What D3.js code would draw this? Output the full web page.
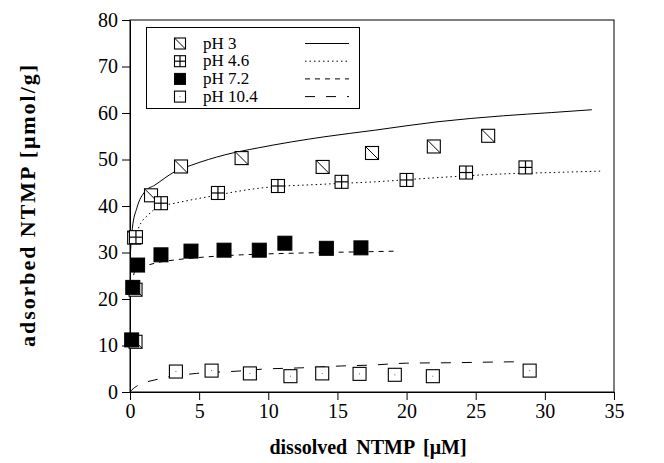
<!DOCTYPE html>
<html>
<head>
<meta charset="utf-8">
<script src="https://cdn.jsdelivr.net/npm/d3@7"></script>
<style>
  body { margin: 0; background: #fff; }
  text { font-family: "Liberation Serif", "Times New Roman", serif; fill: #000; }
</style>
</head>
<body>
<svg id="chart" width="664" height="463"></svg>
<script>
// Adsorption of NTMP at four pH values: measured points and fitted isotherms
const seriesNames = ["pH 3", "pH 4.6", "pH 7.2", "pH 10.4"];

// measured points [dissolved µM, adsorbed µmol/g]
const pH3Points  = [[0.4, 10.8], [0.4, 22.0], [0.3, 33.2], [1.52, 42.3], [3.69, 48.5], [8.07, 50.3],
                    [13.93, 48.4], [17.5, 51.4], [21.97, 52.8], [25.9, 55.1]];
const pH46Points = [[0.43, 33.3], [2.24, 40.6], [6.36, 42.8], [10.7, 44.3], [15.3, 45.2],
                    [20.0, 45.6], [24.3, 47.2], [28.6, 48.3]];
const pH72Points = [[0.12, 11.2], [0.2, 22.5], [0.55, 27.3], [2.24, 29.5], [4.41, 30.3],
                    [6.8, 30.5], [9.35, 30.5], [11.2, 32.0], [14.2, 30.9], [16.7, 31.0]];
const pH104Points = [[3.32, 4.4], [5.9, 4.6], [8.67, 4.0], [11.6, 3.4], [13.9, 4.0],
                     [16.6, 3.9], [19.15, 3.7], [21.9, 3.4], [28.9, 4.6]];

// fitted isotherm curves
const pH3Curve  = [[0.03, 30.0], [0.17, 35.2], [0.5, 39.6], [1.08, 43.1], [1.8, 44.5], [3.25, 47.4],
                   [4.46, 48.8], [6.86, 51.0], [9.27, 52.5], [11.7, 53.8], [14.1, 54.9],
                   [17.7, 56.3], [22.2, 58.1], [27.0, 59.4], [30.5, 60.1], [33.4, 60.7]];
const pH46Curve = [[0.36, 33.4], [0.8, 36.4], [1.32, 38.1], [2.05, 39.8], [3.25, 40.6], [5.66, 42.0],
                   [9.27, 43.8], [14.1, 44.7], [17.7, 45.2], [22.2, 46.1], [27.0, 46.9], [30.5, 47.2],
                   [34.0, 47.5]];
const pH72Curve = [[0.12, 23.0], [0.36, 25.9], [1.8, 27.7], [3.25, 28.4], [4.9, 28.9],
                   [8.07, 29.5], [11.2, 29.8], [14.1, 30.0], [17.7, 30.2], [19.4, 30.3]];
const pH104Curve = [[0.0, 0.0], [0.12, 0.4], [0.96, 1.9], [1.8, 2.6], [2.53, 3.1], [4.82, 4.0],
                    [7.83, 4.5], [9.52, 4.9], [12.4, 5.2], [15.3, 5.6], [17.5, 5.8],
                    [20.0, 6.2], [23.4, 6.3], [26.5, 6.45], [27.95, 6.5]];

const xTicks = [0, 5, 10, 15, 20, 25, 30, 35];
const yTicks = [0, 10, 20, 30, 40, 50, 60, 70, 80];

const svg = d3.select("#chart");
const plotLeft = 130, plotRight = 614, plotTop = 20, plotBottom = 392;
const serif = '"Liberation Serif", "Times New Roman", serif';

const x = d3.scaleLinear().domain([0, 35]).range([plotLeft, plotRight]);
const y = d3.scaleLinear().domain([0, 80]).range([plotBottom, plotTop]);

// frame
svg.append("rect")
  .attr("x", plotLeft).attr("y", plotTop)
  .attr("width", plotRight - plotLeft).attr("height", plotBottom - plotTop)
  .attr("fill", "none").attr("stroke", "#000").attr("stroke-width", 1);

// axes
const xAxis = svg.append("g")
  .attr("transform", `translate(0,${plotBottom})`)
  .call(d3.axisBottom(x).tickValues(xTicks).tickSize(8).tickPadding(4).tickSizeOuter(0));
const yAxis = svg.append("g")
  .attr("transform", `translate(${plotLeft},0)`)
  .call(d3.axisLeft(y).tickValues(yTicks).tickSize(8).tickPadding(4).tickSizeOuter(0));
[xAxis, yAxis].forEach(g => {
  g.attr("font-family", serif).attr("font-size", 20);
  g.selectAll("text").attr("font-family", serif).attr("font-size", 20).attr("fill", "#000");
  g.selectAll("line,path").attr("stroke", "#000");
});

// axis titles
svg.append("text")
  .attr("x", 368).attr("y", 454)
  .attr("text-anchor", "middle")
  .style("font-size", "20px").style("font-weight", "bold").style("word-spacing", "4px")
  .text("dissolved NTMP [\u03bcM]");
svg.append("text")
  .attr("transform", "translate(35,206) rotate(-90)")
  .attr("text-anchor", "middle")
  .attr("textLength", 282).attr("lengthAdjust", "spacing")
  .style("font-size", "22px").style("font-weight", "bold")
  .text("adsorbed NTMP [\u03bcmol/g]");

// line styles per series
const dashes = [null, "1.5,3", "5,5", "10,11"];
const curves = [pH3Curve, pH46Curve, pH72Curve, pH104Curve];
const line = d3.line().x(d => x(d[0])).y(d => y(d[1])).curve(d3.curveMonotoneX);
curves.forEach((c, i) => {
  svg.append("path")
    .attr("d", line(c))
    .attr("fill", "none").attr("stroke", "#000").attr("stroke-width", 1)
    .attr("stroke-dasharray", dashes[i]);
});

// marker drawing
function drawMarker(g, kind, cx, cy, s) {
  const h = s / 2;
  if (kind === 2) {
    g.append("rect").attr("x", cx - h).attr("y", cy - h).attr("width", s).attr("height", s)
      .attr("fill", "#000").attr("stroke", "#000");
    return;
  }
  g.append("rect").attr("x", cx - h).attr("y", cy - h).attr("width", s).attr("height", s)
    .attr("fill", "#fff").attr("stroke", "#000").attr("stroke-width", 1.1);
  if (kind === 0) {
    g.append("line").attr("x1", cx - h).attr("y1", cy - h).attr("x2", cx + h).attr("y2", cy + h)
      .attr("stroke", "#000").attr("stroke-width", 1);
  } else if (kind === 1) {
    g.append("line").attr("x1", cx).attr("y1", cy - h).attr("x2", cx).attr("y2", cy + h)
      .attr("stroke", "#000").attr("stroke-width", 1.2);
    g.append("line").attr("x1", cx - h).attr("y1", cy).attr("x2", cx + h).attr("y2", cy)
      .attr("stroke", "#000").attr("stroke-width", 1.2);
  } else if (kind === 3) {
    g.append("rect").attr("x", cx - 0.5).attr("y", cy - 0.5).attr("width", 1).attr("height", 1)
      .attr("fill", "#666");
  }
}

const pointSets = [pH3Points, pH46Points, pH72Points, pH104Points];
const drawOrder = [0, 3, 1, 2];
const markerG = svg.append("g");
drawOrder.forEach(i => {
  pointSets[i].forEach(p => drawMarker(markerG, i, x(p[0]), y(p[1]), i === 2 ? 14 : 13));
});

// legend
const lg = svg.append("g");
lg.append("rect").attr("x", 146.5).attr("y", 27.5).attr("width", 213).attr("height", 81)
  .attr("fill", "#fff").attr("stroke", "#000").attr("stroke-width", 1);
seriesNames.forEach((name, i) => {
  const ry = 43.5 + i * 17.7;
  drawMarker(lg, i, 180, ry, 11);
  lg.append("text").attr("x", 203).attr("y", ry + 5)
    .style("font-size", "17px").text(name);
  lg.append("line").attr("x1", 305).attr("x2", 349).attr("y1", ry).attr("y2", ry)
    .attr("stroke", "#000").attr("stroke-width", 1)
    .attr("stroke-dasharray", dashes[i]);
});
</script>
</body>
</html>
